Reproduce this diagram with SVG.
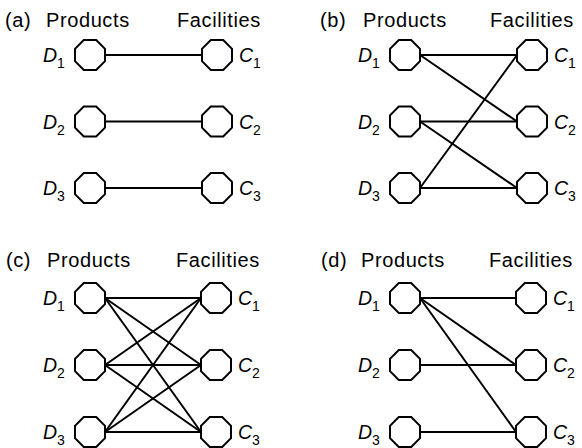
<svg xmlns="http://www.w3.org/2000/svg" width="582" height="448" viewBox="0 0 582 448">
<style>
.hd{font-family:"Liberation Sans",Arial,sans-serif;font-size:20px;letter-spacing:0.6px;fill:#000}
.lb{font-family:"Liberation Sans",Arial,sans-serif;font-size:19.5px;font-style:italic;fill:#000}
.sb{font-size:14px;font-style:normal}
.oct{fill:#fff;stroke:#000;stroke-width:2}
.cn line{stroke:#000;stroke-width:2}
</style>
<defs>
<polygon id="o" points="-6.2,-15 6.2,-15 15,-6.2 15,6.2 6.2,15 -6.2,15 -15,6.2 -15,-6.2"/>
</defs>
<rect width="582" height="448" fill="#fff"/>
<g id="headers">
<text class="hd" x="5" y="27">(a)</text><text class="hd" x="46" y="27">Products</text><text class="hd" x="177" y="27">Facilities</text>
<text class="hd" x="320" y="27">(b)</text><text class="hd" x="363" y="27">Products</text><text class="hd" x="490" y="27">Facilities</text>
<text class="hd" x="6" y="267">(c)</text><text class="hd" x="47" y="267">Products</text><text class="hd" x="176" y="267">Facilities</text>
<text class="hd" x="321" y="267">(d)</text><text class="hd" x="361" y="267">Products</text><text class="hd" x="489" y="267">Facilities</text>
</g>
<g id="connectors" class="cn">
<line x1="105" y1="55" x2="202" y2="55"/>
<line x1="105" y1="121.5" x2="202" y2="121.5"/>
<line x1="105" y1="188" x2="202" y2="188"/>

<line x1="420" y1="55" x2="517" y2="55"/>
<line x1="420" y1="55" x2="517" y2="121.5"/>
<line x1="420" y1="121.5" x2="517" y2="121.5"/>
<line x1="420" y1="121.5" x2="517" y2="188"/>
<line x1="420" y1="188" x2="517" y2="55"/>
<line x1="420" y1="188" x2="517" y2="188"/>

<line x1="105" y1="298" x2="201" y2="298"/>
<line x1="105" y1="298" x2="201" y2="365"/>
<line x1="105" y1="298" x2="201" y2="432"/>
<line x1="105" y1="365" x2="201" y2="298"/>
<line x1="105" y1="365" x2="201" y2="365"/>
<line x1="105" y1="365" x2="201" y2="432"/>
<line x1="105" y1="432" x2="201" y2="298"/>
<line x1="105" y1="432" x2="201" y2="365"/>
<line x1="105" y1="432" x2="201" y2="432"/>

<line x1="420" y1="298" x2="516" y2="298"/>
<line x1="420" y1="298" x2="516" y2="365"/>
<line x1="420" y1="298" x2="516" y2="432"/>
<line x1="420" y1="365" x2="516" y2="365"/>
<line x1="420" y1="432" x2="516" y2="432"/>
</g>
<g id="a-D1"><use href="#o" class="oct" x="90" y="55"/><text class="lb" x="43" y="62">D<tspan class="sb" dy="6">1</tspan></text></g>
<g id="a-D2"><use href="#o" class="oct" x="90" y="121.5"/><text class="lb" x="43" y="128.5">D<tspan class="sb" dy="6">2</tspan></text></g>
<g id="a-D3"><use href="#o" class="oct" x="90" y="188"/><text class="lb" x="43" y="195">D<tspan class="sb" dy="6">3</tspan></text></g>
<g id="a-C1"><use href="#o" class="oct" x="217" y="55"/><text class="lb" x="239" y="62">C<tspan class="sb" dy="6">1</tspan></text></g>
<g id="a-C2"><use href="#o" class="oct" x="217" y="121.5"/><text class="lb" x="239" y="128.5">C<tspan class="sb" dy="6">2</tspan></text></g>
<g id="a-C3"><use href="#o" class="oct" x="217" y="188"/><text class="lb" x="239" y="195">C<tspan class="sb" dy="6">3</tspan></text></g>
<g id="b-D1"><use href="#o" class="oct" x="405" y="55"/><text class="lb" x="358" y="62">D<tspan class="sb" dy="6">1</tspan></text></g>
<g id="b-D2"><use href="#o" class="oct" x="405" y="121.5"/><text class="lb" x="358" y="128.5">D<tspan class="sb" dy="6">2</tspan></text></g>
<g id="b-D3"><use href="#o" class="oct" x="405" y="188"/><text class="lb" x="358" y="195">D<tspan class="sb" dy="6">3</tspan></text></g>
<g id="b-C1"><use href="#o" class="oct" x="532" y="55"/><text class="lb" x="554" y="62">C<tspan class="sb" dy="6">1</tspan></text></g>
<g id="b-C2"><use href="#o" class="oct" x="532" y="121.5"/><text class="lb" x="554" y="128.5">C<tspan class="sb" dy="6">2</tspan></text></g>
<g id="b-C3"><use href="#o" class="oct" x="532" y="188"/><text class="lb" x="554" y="195">C<tspan class="sb" dy="6">3</tspan></text></g>
<g id="c-D1"><use href="#o" class="oct" x="90" y="298"/><text class="lb" x="43" y="305">D<tspan class="sb" dy="6">1</tspan></text></g>
<g id="c-D2"><use href="#o" class="oct" x="90" y="365"/><text class="lb" x="43" y="372">D<tspan class="sb" dy="6">2</tspan></text></g>
<g id="c-D3"><use href="#o" class="oct" x="90" y="432"/><text class="lb" x="43" y="439">D<tspan class="sb" dy="6">3</tspan></text></g>
<g id="c-C1"><use href="#o" class="oct" x="216" y="298"/><text class="lb" x="238" y="305">C<tspan class="sb" dy="6">1</tspan></text></g>
<g id="c-C2"><use href="#o" class="oct" x="216" y="365"/><text class="lb" x="238" y="372">C<tspan class="sb" dy="6">2</tspan></text></g>
<g id="c-C3"><use href="#o" class="oct" x="216" y="432"/><text class="lb" x="238" y="439">C<tspan class="sb" dy="6">3</tspan></text></g>
<g id="d-D1"><use href="#o" class="oct" x="405" y="298"/><text class="lb" x="358" y="305">D<tspan class="sb" dy="6">1</tspan></text></g>
<g id="d-D2"><use href="#o" class="oct" x="405" y="365"/><text class="lb" x="358" y="372">D<tspan class="sb" dy="6">2</tspan></text></g>
<g id="d-D3"><use href="#o" class="oct" x="405" y="432"/><text class="lb" x="358" y="439">D<tspan class="sb" dy="6">3</tspan></text></g>
<g id="d-C1"><use href="#o" class="oct" x="531" y="298"/><text class="lb" x="553" y="305">C<tspan class="sb" dy="6">1</tspan></text></g>
<g id="d-C2"><use href="#o" class="oct" x="531" y="365"/><text class="lb" x="553" y="372">C<tspan class="sb" dy="6">2</tspan></text></g>
<g id="d-C3"><use href="#o" class="oct" x="531" y="432"/><text class="lb" x="553" y="439">C<tspan class="sb" dy="6">3</tspan></text></g>
</svg>
